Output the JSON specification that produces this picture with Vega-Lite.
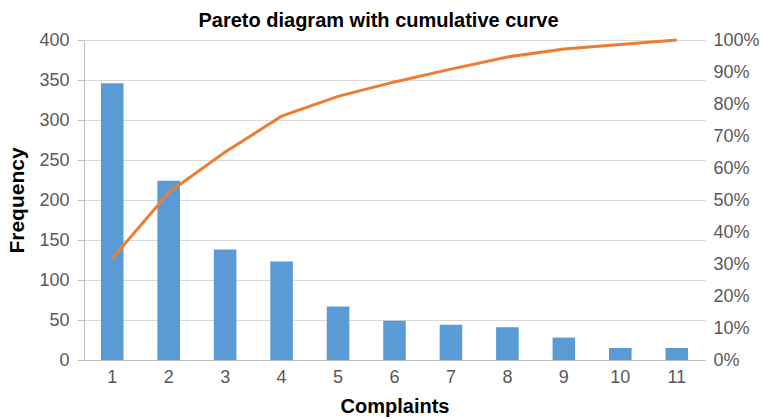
{
  "$schema": "https://vega.github.io/schema/vega-lite/v6.json",
  "autosize": {"type": "none"},
  "padding": {"left": 84, "top": 40, "right": 58, "bottom": 59},
  "width": 621,
  "height": 320,
  "background": "white",
  "config": {
    "view": {"stroke": null},
    "font": "Liberation Sans",
    "axis": {
      "labelFont": "Liberation Sans",
      "labelFontSize": 18,
      "labelColor": "#595959",
      "titleFont": "Liberation Sans",
      "titleColor": "#000000",
      "titleFontWeight": "bold",
      "domainColor": "#BFBFBF",
      "tickColor": "#BFBFBF",
      "gridColor": "#D9D9D9"
    }
  },
  "title": {
    "text": "Pareto diagram with cumulative curve",
    "font": "Liberation Sans",
    "fontSize": 20,
    "fontWeight": "bold",
    "color": "#000000",
    "anchor": "middle",
    "dx": -16,
    "offset": 0
  },
  "data": {
    "values": [
      {"Complaint": "1", "Frequency": 346, "Cumulative": 0.317},
      {"Complaint": "2", "Frequency": 224, "Cumulative": 0.523},
      {"Complaint": "3", "Frequency": 138, "Cumulative": 0.650},
      {"Complaint": "4", "Frequency": 123, "Cumulative": 0.762},
      {"Complaint": "5", "Frequency": 67, "Cumulative": 0.824},
      {"Complaint": "6", "Frequency": 49, "Cumulative": 0.869},
      {"Complaint": "7", "Frequency": 44, "Cumulative": 0.909},
      {"Complaint": "8", "Frequency": 41, "Cumulative": 0.947},
      {"Complaint": "9", "Frequency": 28, "Cumulative": 0.972},
      {"Complaint": "10", "Frequency": 15, "Cumulative": 0.986},
      {"Complaint": "11", "Frequency": 15, "Cumulative": 1.0}
    ]
  },
  "encoding": {
    "x": {
      "field": "Complaint",
      "type": "ordinal",
      "sort": null,
      "scale": {"paddingInner": 0.6, "paddingOuter": 0.3},
      "axis": {
        "title": "Complaints",
        "titleFontSize": 20,
        "titlePadding": 10,
        "labelAngle": 0,
        "ticks": false,
        "labelPadding": 8
      }
    }
  },
  "layer": [
    {
      "mark": {"type": "bar", "color": "#5B9BD5"},
      "encoding": {
        "y": {
          "field": "Frequency",
          "type": "quantitative",
          "scale": {"domain": [0, 400], "nice": false},
          "axis": {
            "title": "Frequency",
            "titleFontSize": 21,
            "titlePadding": 11,
            "values": [0, 50, 100, 150, 200, 250, 300, 350, 400],
            "tickSize": 7,
            "labelPadding": 8,
            "grid": true
          }
        }
      }
    },
    {
      "mark": {"type": "line", "color": "#ED7D31", "strokeWidth": 3},
      "encoding": {
        "y": {
          "field": "Cumulative",
          "type": "quantitative",
          "scale": {"domain": [0, 1], "nice": false},
          "axis": {
            "orient": "right",
            "title": null,
            "format": ".0%",
            "values": [0, 0.1, 0.2, 0.3, 0.4, 0.5, 0.6, 0.7, 0.8, 0.9, 1.0],
            "grid": false,
            "domain": false,
            "ticks": false,
            "labelPadding": 8
          }
        }
      }
    }
  ],
  "resolve": {"scale": {"y": "independent"}}
}
